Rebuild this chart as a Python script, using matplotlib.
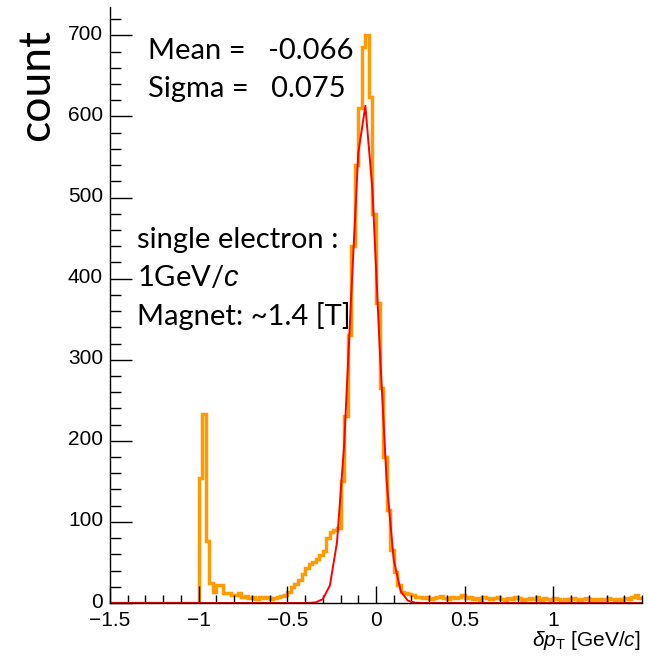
import numpy as np
import matplotlib
matplotlib.use("Agg")
import matplotlib.pyplot as plt
import matplotlib.transforms as mtransforms
from matplotlib.ticker import MultipleLocator

# ---- data ----
bin_lo, bin_hi, bin_w = -1.5, 1.5, 0.02
counts = [0] * 25 + [
    154, 233, 76, 25, 14, 22, 22, 12, 12, 10, 10, 12,           # -1.00 .. -0.78
    7, 9, 6, 8, 5, 7, 6, 8, 5, 6, 7, 9, 10,                     # -0.76 .. -0.52
    14, 20, 24, 28, 36, 43, 48, 51, 54, 59, 64,                 # -0.50 .. -0.30
    80, 88, 90, 92, 150, 230, 330, 440, 540, 610,               # -0.28 .. -0.10
    686, 700, 624, 480, 370, 265, 180, 115, 65, 38,             # -0.08 ..  0.10
    22, 14, 12, 11, 10, 8,                                      #  0.12 ..  0.22
    7, 6, 8, 5, 6, 7, 9, 6, 5, 7, 6, 8, 10, 6, 7, 5, 6, 4, 7, 6, 5,   # 0.24 ..
    6, 7, 5, 4, 6, 5, 7, 6, 4, 5, 6, 5, 7, 4, 6, 5, 4, 6, 5, 3, 5,
    4, 6, 5, 4, 5, 6, 4, 5, 3, 5, 4, 6, 5, 4, 5, 4, 6, 5, 7, 10, 6,
]
fit_mean, fit_sigma, fit_amp = -0.066, 0.075, 615.0
fit_npx = 75
xticks = [-1.5, -1, -0.5, 0, 0.5, 1]
xtick_labels = ["\u22121.5", "\u22121", "\u22120.5", "0", "0.5", "1"]
yticks = [0, 100, 200, 300, 400, 500, 600, 700]

edges = np.round(np.arange(len(counts) + 1) * bin_w + bin_lo, 4)

W, H = 648, 657
fig = plt.figure(figsize=(W / 100, H / 100), dpi=100)
plt.rcParams['mathtext.fontset'] = 'custom'
plt.rcParams['mathtext.rm'] = 'Liberation Sans'
plt.rcParams['mathtext.it'] = 'Liberation Sans:italic'

ax = fig.add_axes([110 / W, 54 / H, 532 / W, 596 / H])
ax.stairs(counts, edges, color='#ff9a00', linewidth=2.5, baseline=None)

xf = np.linspace(bin_lo, bin_hi, fit_npx + 1)
yf = fit_amp * np.exp(-0.5 * ((xf - fit_mean) / fit_sigma) ** 2)
ax.plot(xf, yf, color='#ff0000', linewidth=1.4)

ax.set_xlim(bin_lo, bin_hi)
ax.set_ylim(0, 735)
for s in ['top', 'right']:
    ax.spines[s].set_visible(False)
for s in ['left', 'bottom']:
    ax.spines[s].set_linewidth(1.0)

ax.set_xticks(xticks)
ax.set_xticklabels(xtick_labels, fontfamily='Liberation Sans', fontsize=15)
ax.set_yticks(yticks)
ax.set_yticklabels([str(v) for v in yticks], fontfamily='Liberation Sans', fontsize=15)
ax.xaxis.set_minor_locator(MultipleLocator(0.1))
ax.yaxis.set_minor_locator(MultipleLocator(20))
ax.tick_params(axis='x', which='major', direction='in', length=12, width=1, pad=6)
ax.tick_params(axis='x', which='minor', direction='in', length=6, width=1)
ax.tick_params(axis='y', which='major', direction='in', length=16, width=1, pad=5)
ax.tick_params(axis='y', which='minor', direction='in', length=8, width=1)

# nudge y tick labels slightly upward (as in the reference)
shift = mtransforms.ScaledTranslation(0, 3 / 100, fig.dpi_scale_trans)
for lab in ax.get_yticklabels():
    lab.set_transform(lab.get_transform() + shift)

fig.text(641 / W, 1 - 640 / H, r'$\delta p_{\mathrm{T}}$ [GeV/$c$]', ha='right', va='center',
         fontsize=15, fontfamily='Liberation Sans')

fig.text(37 / W, 1 - 85 / H, 'count', rotation=90, ha='center', va='center',
         fontsize=32, fontfamily='Lato')

txt = dict(fontsize=21, fontfamily='Lato', ha='left', va='center')
fig.text(148 / W, 1 - 51 / H, 'Mean =   -0.066', **txt)
fig.text(148 / W, 1 - 89 / H, 'Sigma =   0.075', **txt)
fig.text(137 / W, 1 - 240 / H, 'single electron :', **txt)
fig.text(137 / W, 1 - 278 / H, r'1GeV/$c$', **txt)
fig.text(137 / W, 1 - 316 / H, 'Magnet: ~1.4 [T]', **txt)

fig.savefig('out.png', dpi=100)
